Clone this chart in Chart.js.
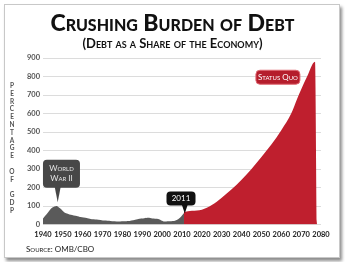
<!DOCTYPE html>
<html>
<head>
<meta charset="utf-8">
<script src="https://cdn.jsdelivr.net/npm/chart.js@4.4.0/dist/chart.umd.min.js"></script>
<style>
  html, body { margin: 0; padding: 0; background: #fff; }
  #wrap { position: relative; width: 345px; height: 262px; overflow: hidden; font-family: Lato, "Open Sans", sans-serif; }
  .card { position: absolute; left: 4px; top: 4px; width: 334px; height: 252px; background: #fff;
          border: 1px solid #c8c8c8; box-shadow: 2px 3px 3px rgba(0,0,0,.45); }
  #box { position: absolute; left: 0; top: 0; width: 345px; height: 262px; }
  .title { position: absolute; left: 0; width: 345px; top: 8px; text-align: center; font-weight: 900;
           font-size: 23px; line-height: 28px; font-variant: small-caps; color: #111; }
  .sub { position: absolute; left: 0; width: 345px; top: 36px; text-align: center; font-weight: bold;
         font-size: 13px; line-height: 15px; font-variant: small-caps; color: #111; }
  .ylab { position: absolute; left: 7px; top: 82px; width: 10px; text-align: center; font-weight: bold;
          font-size: 6.5px; line-height: 7.8px; color: #555; }
  .src { position: absolute; left: 26px; top: 244px; font-size: 8px; line-height: 10px; font-variant: small-caps; color: #222; }
</style>
</head>
<body>
<div id="wrap">
  <div class="card"></div>
  <div id="box"><canvas id="debt"></canvas></div>
  <div class="title">Crushing Burden of Debt</div>
  <div class="sub">(Debt as a Share of the Economy)</div>
  <div class="ylab">P<br>E<br>R<br>C<br>E<br>N<br>T<br>A<br>G<br>E<br><br>O<br>F<br><br>G<br>D<br>P</div>
  <div class="src">Source: OMB/CBO</div>
</div>
<script>
// history (gray) and projection (red), percent of GDP
const pastYears  = [1940, 1942, 1944, 1946, 1947, 1949, 1951, 1954, 1957, 1959, 1962, 1964, 1967, 1971, 1974, 1978, 1981, 1983, 1986, 1988, 1991, 1993, 1995, 1998, 2000, 2001, 2003, 2006, 2008, 2009, 2010, 2011];
const pastDebt   = [33, 58, 85, 98, 100, 84, 64, 53, 46, 40, 35, 30, 27, 21, 19, 16, 17, 19, 25, 30, 34, 36, 33, 30, 20, 16, 18, 19, 28, 36, 48, 62];
const futureYears = [2011, 2015, 2020, 2025, 2030, 2035, 2040, 2045, 2050, 2055, 2060, 2065, 2068, 2070, 2073, 2077, 2078];
const futureDebt  = [67, 74, 80, 105, 145, 190, 242, 300, 365, 432, 510, 600, 680, 730, 800, 880, 0];
const xTicks = [1940, 1950, 1960, 1970, 1980, 1990, 2000, 2010, 2020, 2030, 2040, 2050, 2060, 2070, 2080];
const yTicks = [0, 100, 200, 300, 400, 500, 600, 700, 800, 900];

const toPoints = (xs, ys) => xs.map((x, i) => ({ x: x, y: ys[i] }));

// speech bubbles placed in data units
const callouts = [
  { lines: ["World", "War II"], year: 1949.3, value: 274, tipYear: 1947.4, tipValue: 120, w: 37, h: 28, fill: "#474747", color: "#e6e6e6" },
  { lines: ["2011"], year: 2009.5, value: 141, tipYear: 2011.4, tipValue: 60, w: 29, h: 14, fill: "#111", color: "#fff" },
  { lines: ["Status Quo"], year: 2058.3, value: 796, w: 44, h: 14, fill: "#b51d2c", color: "#fff", stroke: "#e06a74" },
];

const calloutPlugin = {
  id: "callouts",
  afterDatasetsDraw(chart) {
    const ctx = chart.ctx;
    const xs = chart.scales.x, ys = chart.scales.y;
    callouts.forEach(c => {
      const cx = xs.getPixelForValue(c.year), cy = ys.getPixelForValue(c.value);
      const left = cx - c.w / 2, top = cy - c.h / 2;
      ctx.save();
      ctx.fillStyle = c.fill;
      ctx.beginPath();
      ctx.roundRect(left, top, c.w, c.h, 4);
      ctx.fill();
      if (c.stroke) {
        ctx.strokeStyle = c.stroke;
        ctx.lineWidth = 1;
        ctx.stroke();
      }
      if (c.tipYear !== undefined) {
        const tx = xs.getPixelForValue(c.tipYear), ty = ys.getPixelForValue(c.tipValue);
        ctx.beginPath();
        ctx.moveTo(tx - 3, top + c.h - 1);
        ctx.lineTo(tx, ty);
        ctx.lineTo(tx + 3, top + c.h - 1);
        ctx.closePath();
        ctx.fill();
      }
      ctx.fillStyle = c.color;
      ctx.font = "8px Lato, 'Open Sans', sans-serif";
      if ("fontVariantCaps" in ctx) ctx.fontVariantCaps = "small-caps";
      ctx.textAlign = "center";
      ctx.textBaseline = "middle";
      const gap = 10;
      const y0 = cy - (c.lines.length - 1) * gap / 2;
      c.lines.forEach((t, i) => ctx.fillText(t, cx, y0 + i * gap));
      ctx.restore();
    });
  }
};

new Chart(document.getElementById("debt"), {
  type: "line",
  data: {
    datasets: [
      {
        label: "History",
        data: toPoints(pastYears, pastDebt),
        backgroundColor: "#5a5a5a",
        borderWidth: 0,
        pointRadius: 0,
        fill: "origin",
        tension: 0.2,
      },
      {
        label: "Status Quo",
        data: toPoints(futureYears, futureDebt),
        backgroundColor: "#bf1f2e",
        borderWidth: 0,
        pointRadius: 0,
        fill: "origin",
        cubicInterpolationMode: "monotone",
      },
    ],
  },
  options: {
    responsive: true,
    maintainAspectRatio: false,
    animation: false,
    layout: { padding: { left: 0, top: 58, right: 24, bottom: 0 } },
    plugins: {
      legend: { display: false },
      tooltip: { enabled: false },
    },
    scales: {
      x: {
        type: "linear",
        min: 1940,
        max: 2080,
        afterFit: s => { s.height = 37.5; },
        afterBuildTicks: s => { s.ticks = xTicks.map(v => ({ value: v })); },
        grid: { display: false, drawTicks: false },
        border: { display: false },
        ticks: {
          autoSkip: false,
          padding: 6,
          maxRotation: 0,
          color: "#222",
          font: { family: "Lato", size: 7.5, weight: "bold" },
          callback: v => String(v),
        },
      },
      y: {
        min: 0,
        max: 900,
        afterFit: s => { s.width = 43; },
        afterBuildTicks: s => { s.ticks = yTicks.map(v => ({ value: v })); },
        grid: { color: "#dcdcdc", drawTicks: false },
        border: { display: false },
        ticks: {
          padding: 3,
          color: "#555",
          font: { family: "Lato", size: 7.5, weight: "bold" },
        },
      },
    },
  },
  plugins: [calloutPlugin],
});
</script>
</body>
</html>
